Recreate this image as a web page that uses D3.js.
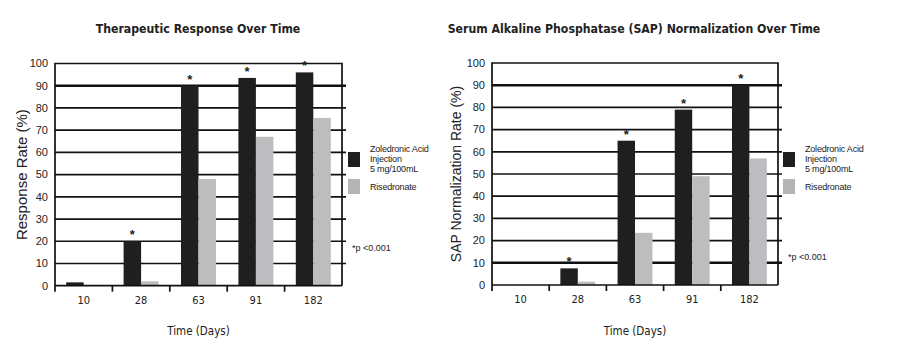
<!DOCTYPE html>
<html>
<head>
<meta charset="utf-8">
<script src="https://cdn.jsdelivr.net/npm/d3@7"></script>
<style>
  body { margin: 0; background: #fff; }
  svg text { fill: #222; }
</style>
</head>
<body>
<div id="chart"></div>
<script>
// data
const days = ["10", "28", "63", "91", "182"];
const seriesNames = ["Zoledronic Acid Injection 5 mg/100mL", "Risedronate"];
const responseZol = [1.5, 20, 90, 93.5, 96];
const responseRis = [0, 2, 48, 67, 75.5];
const sapZol = [0, 7.5, 65, 79, 90];
const sapRis = [0, 1.5, 23.5, 49, 57];
const responseStar = [false, true, true, true, true];
const sapStar = [false, true, true, true, true];
const yTicks = [0, 10, 20, 30, 40, 50, 60, 70, 80, 90, 100];

const colors = { zol: '#1f1f1f', ris: '#bdbdc0' };
const narrow = "'Liberation Sans Narrow', 'Arial Narrow', 'DejaVu Sans Condensed', sans-serif";
const sans = "'Liberation Sans', Arial, sans-serif";

const svg = d3.select('#chart').append('svg')
    .attr('width', 905)
    .attr('height', 354);

function drawPanel(cfg) {
  const g = svg.append('g');
  const x = d3.scaleBand().domain(days).range([cfg.left, cfg.right]);
  const y = d3.scaleLinear().domain([0, 100]).range([cfg.bottom, cfg.top]);
  const x1 = d3.scaleBand().domain(['zol', 'ris'])
      .range([0, x.bandwidth()]).paddingOuter(0.64);

  // gridlines
  g.selectAll('.grid')
      .data(yTicks.filter((d) => d > 0 && d < 100))
      .enter()
      .append('line')
      .attr('x1', cfg.left)
      .attr('x2', cfg.right + 4)
      .attr('y1', (d) => y(d))
      .attr('y2', (d) => y(d))
      .attr('stroke', '#111')
      .attr('stroke-width', (d) => cfg.thick.includes(d) ? 2.6 : 1.7);

  // frame
  g.append('path')
      .attr('d', `M${cfg.left},${cfg.bottom + 6}V${y(100)}H${cfg.right}V${cfg.bottom}`)
      .attr('fill', 'none')
      .attr('stroke', '#111')
      .attr('stroke-width', 1.7);

  // bars
  const rows = days.map((d, i) => ({ day: d, zol: cfg.zol[i], ris: cfg.ris[i], star: cfg.star[i] }));
  const grp = g.selectAll('.day')
      .data(rows)
      .enter()
      .append('g')
      .attr('transform', (d) => `translate(${x(d.day)},0)`);

  grp.selectAll('rect')
      .data((d) => ['zol', 'ris'].map((k) => ({ key: k, value: d[k] })))
      .enter()
      .append('rect')
      .attr('x', (d) => x1(d.key))
      .attr('width', x1.bandwidth())
      .attr('y', (d) => y(d.value))
      .attr('height', (d) => y(0) - y(d.value))
      .attr('fill', (d) => colors[d.key]);

  grp.filter((d) => d.star)
      .append('text')
      .attr('x', x1('zol') + x1.bandwidth() / 2)
      .attr('y', (d) => y(d.zol) - 2)
      .attr('text-anchor', 'middle')
      .style('font', `bold 13px ${sans}`)
      .text('*');

  // x axis line + ticks
  g.append('line')
      .attr('x1', cfg.left).attr('x2', cfg.right)
      .attr('y1', cfg.bottom).attr('y2', cfg.bottom)
      .attr('stroke', '#111').attr('stroke-width', 1.7);

  g.selectAll('.xtick')
      .data(days.slice(1))
      .enter()
      .append('line')
      .attr('x1', (d) => x(d)).attr('x2', (d) => x(d))
      .attr('y1', cfg.bottom).attr('y2', cfg.bottom + 6)
      .attr('stroke', '#111').attr('stroke-width', 1.7);

  g.selectAll('.xlabel')
      .data(days)
      .enter()
      .append('text')
      .attr('x', (d) => x(d) + x.bandwidth() / 2)
      .attr('y', cfg.bottom + 18)
      .attr('text-anchor', 'middle')
      .style('font', `11px ${narrow}`)
      .text((d) => d);

  // y labels
  g.selectAll('.ylabel')
      .data(yTicks)
      .enter()
      .append('text')
      .attr('x', cfg.left - 7)
      .attr('y', (d) => y(d))
      .attr('dy', '0.35em')
      .attr('text-anchor', 'end')
      .style('font', `11px ${sans}`)
      .text((d) => d);

  // titles
  g.append('text')
      .attr('x', cfg.titleX)
      .attr('y', 33)
      .attr('text-anchor', 'middle')
      .style('font', `bold 12.2px ${narrow}`)
      .text(cfg.title);

  g.append('text')
      .attr('transform', `translate(${cfg.yTitleX},${(cfg.top + cfg.bottom) / 2}) rotate(-90)`)
      .attr('text-anchor', 'middle')
      .style('font', `${cfg.yTitleSize}px ${sans}`)
      .text(cfg.yTitle);

  g.append('text')
      .attr('x', (cfg.left + cfg.right) / 2)
      .attr('y', 335)
      .attr('text-anchor', 'middle')
      .style('font', `11.5px ${narrow}`)
      .text('Time (Days)');

  // legend
  const lg = g.append('g').attr('transform', `translate(${cfg.legendX},152)`);
  lg.append('rect').attr('x', 0).attr('y', 0).attr('width', 12).attr('height', 15).attr('fill', colors.zol);
  lg.append('rect').attr('x', 0).attr('y', 27).attr('width', 12).attr('height', 15).attr('fill', '#b5b5b8');
  const legText = [['Zoledronic Acid', -3], ['Injection', 7], ['5 mg/100mL', 17], ['Risedronate', 35]];
  lg.selectAll('.lt')
      .data(legText)
      .enter()
      .append('text')
      .attr('x', 22)
      .attr('y', (d) => d[1])
      .attr('dy', '0.35em')
      .style('font', `9px ${sans}`)
      .style('letter-spacing', '-0.2px')
      .text((d) => d[0]);

  g.append('text')
      .attr('x', cfg.noteX)
      .attr('y', cfg.noteY)
      .attr('dy', '0.35em')
      .style('font', `9px ${sans}`)
      .text('*p <0.001');
}

drawPanel({
  left: 55, right: 342, top: 63.5, bottom: 285.7,
  zol: responseZol, ris: responseRis, star: responseStar,
  thick: [90],
  title: 'Therapeutic Response Over Time', titleX: 198,
  yTitle: 'Response Rate (%)', yTitleX: 27, yTitleSize: 15,
  legendX: 348, noteX: 352, noteY: 248
});

drawPanel({
  left: 492, right: 778, top: 63, bottom: 285,
  zol: sapZol, ris: sapRis, star: sapStar,
  thick: [10, 90],
  title: 'Serum Alkaline Phosphatase (SAP) Normalization Over Time', titleX: 634,
  yTitle: 'SAP Normalization Rate (%)', yTitleX: 461, yTitleSize: 14,
  legendX: 783, noteX: 788, noteY: 257
});
</script>
</body>
</html>
